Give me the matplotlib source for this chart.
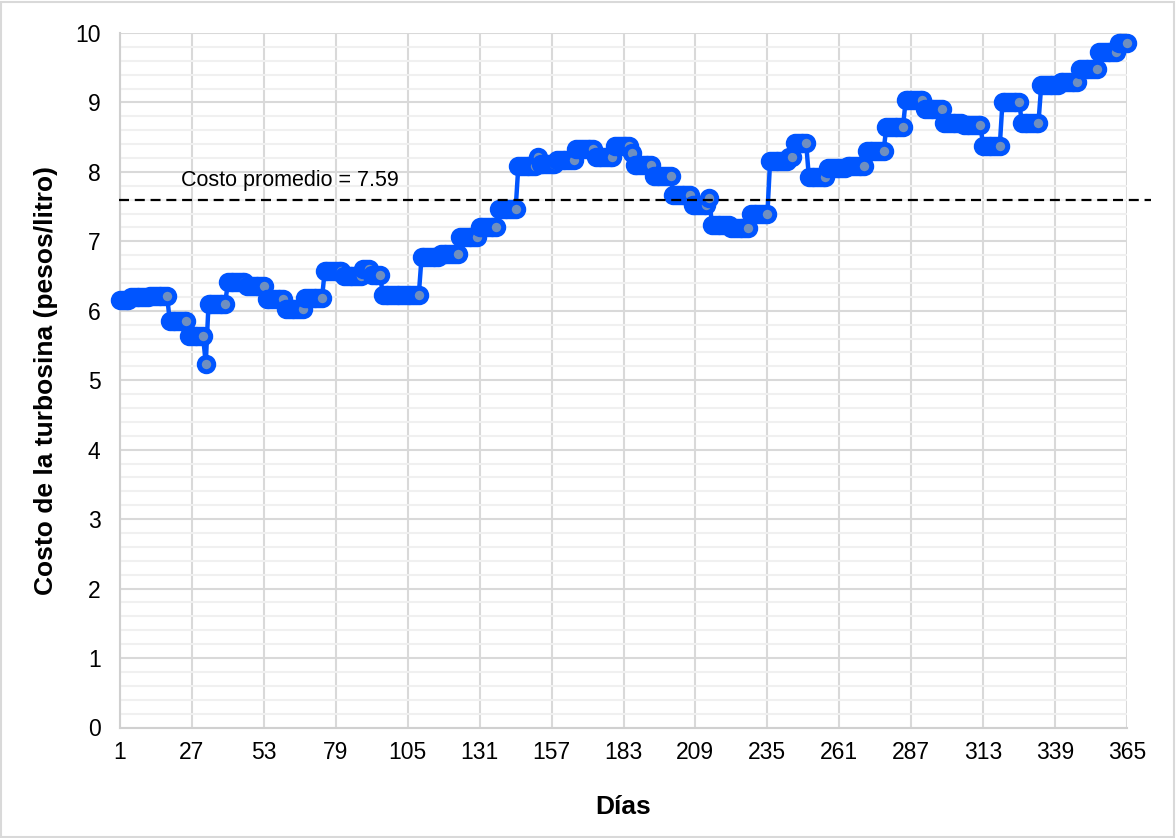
import numpy as np
import matplotlib
matplotlib.use("Agg")
import matplotlib.pyplot as plt
from matplotlib.patches import Rectangle

# ---- data (weekly price steps) ----
seg_start = [1, 5, 12, 19, 26, 32, 33, 40, 47, 54, 61, 68, 75, 82, 89, 92, 96,
             110, 117, 124, 131, 138, 145, 152, 153, 159, 166, 173, 180, 186,
             187, 194, 201, 208, 214, 215, 222, 229, 236, 243, 245, 250, 257,
             264, 271, 278, 285, 292, 299, 306, 313, 320, 327, 334, 341, 348,
             355, 362]
seg_value = [6.16, 6.20, 6.22, 5.85, 5.64, 5.24, 6.10, 6.41, 6.36, 6.17, 6.02,
             6.18, 6.57, 6.50, 6.60, 6.52, 6.23,
             6.77, 6.82, 7.06, 7.21, 7.46, 8.09, 8.22, 8.12, 8.17, 8.33, 8.22,
             8.38, 8.27,
             8.10, 7.94, 7.67, 7.52, 7.62, 7.23, 7.19, 7.39, 8.16, 8.21, 8.42,
             7.93, 8.05,
             8.09, 8.30, 8.64, 9.03, 8.90, 8.70, 8.68, 8.37, 9.01, 8.71, 9.25,
             9.30, 9.48,
             9.73, 9.85]
last_day = 365
promedio = 7.59
x_ticks = [1, 27, 53, 79, 105, 131, 157, 183, 209, 235, 261, 287, 313, 339, 365]

lengths = np.diff(seg_start + [last_day + 1])
days = np.arange(1, last_day + 1)
costo = np.repeat(seg_value, lengths)

W, H = 1176, 838
fig = plt.figure(figsize=(W / 100, H / 100), dpi=100)
plt.rcParams['font.family'] = ['Liberation Sans', 'DejaVu Sans']

L, R, T, B = 120, 1127, 33, 727.5
ax = fig.add_axes([L / W, 1 - B / H, (R - L) / W, (B - T) / H])

ax.set_xlim(1, 365)
ax.set_ylim(0, 10)
ax.set_xticks(x_ticks)
ax.set_yticks(range(0, 11))
ax.set_yticks(np.arange(0, 10.01, 0.2), minor=True)
ax.grid(which='major', axis='both', color='#d9d9d9', lw=1.5, zorder=0)
ax.grid(which='minor', axis='y', color='#f0f0f0', lw=1.5, zorder=0)
ax.set_axisbelow(True)
for s in ['top', 'right']:
    ax.spines[s].set_visible(False)
for s in ['left', 'bottom']:
    ax.spines[s].set_color('#d0d0d0')
    ax.spines[s].set_linewidth(1.5)
ax.tick_params(which='both', length=0)
ax.tick_params(axis='y', labelsize=16.5, pad=14)
ax.tick_params(axis='x', labelsize=16.5, pad=10)

ax.plot(days, costo, color='#0055ff', lw=3.2, marker='o', ms=10.4,
        mew=3.6, mfc='#6f8fc0', mec='#0055ff', solid_capstyle='round',
        zorder=3, clip_on=False)

ax.plot([0.8, 373.7], [promedio, promedio], color='black', lw=1.6,
        ls=(0, (4.5, 2.6)), zorder=4, clip_on=False)
ax.text(23, 7.87, 'Costo promedio = %.2f' % promedio, fontsize=15.5,
        ha='left', va='center', zorder=5)

ax.set_xlabel('Días', fontsize=19, fontweight='bold', labelpad=22)
ax.set_ylabel('Costo de la turbosina (pesos/litro)', fontsize=19,
              fontweight='bold', labelpad=12)

fig.patches.append(Rectangle((1 / W, 1 / H), 1 - 3 / W, 1 - 3 / H,
                             transform=fig.transFigure, fill=False,
                             ec='#d9d9d9', lw=1.5))

fig.savefig('out.png', dpi=100)
